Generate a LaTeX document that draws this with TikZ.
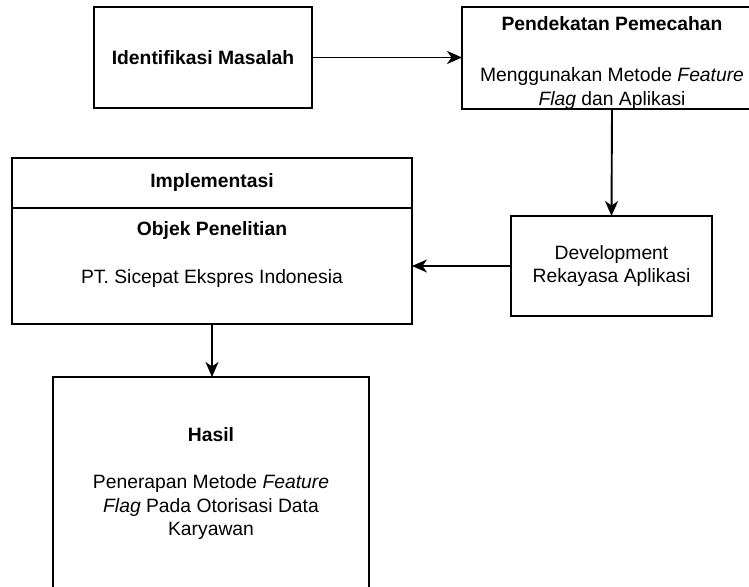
\documentclass[tikz,border=0pt]{standalone}
\usepackage{fontspec}
\setmainfont{Liberation Sans}
\usetikzlibrary{calc,
arrows.meta,
positioning}

\begin{document}
\begin{tikzpicture} [-{Stealth[length=15pt,width=13pt,inset=4.5pt]},
    x = 1pt,
    y = -1pt,
    line width = 1.9pt,
    every node/.style={font={\fontsize{19.3}{23.5}\selectfont}},
    main node/.style={rectangle, fill = white, draw,
        align=center, inner sep = 0pt, outer sep = 0pt,
        anchor = north west}
  ]
  \useasboundingbox (0, 0) rectangle (749, 586);
  \clip (0, 0) rectangle (749, 586);

  \node [main node,
    minimum width = 218pt,
    minimum height = 101pt
  ] (masalah) at (94, 7) {\textbf{Identifikasi Masalah}};
  \node [main node,
    minimum width = 300pt,
    minimum height = 100pt
  ] (pendekatan) at (462, 7) {\rule{0pt}{24pt}\textbf{Pendekatan Pemecahan}\\[27pt]
    Menggunakan Metode \textit{Feature}\\\textit{Flag} dan Aplikasi};

  \node [main node,
    minimum width = 201pt,
    minimum height = 100pt
  ] (dev) at (511, 216) {Development\\Rekayasa Aplikasi};

  \node [main node,
    minimum width = 400pt,
    minimum height = 50pt
  ] (impl) at (12, 158) {\textbf{Implementasi}};
  \node [main node,
    minimum width = 400pt,
    minimum height = 116pt,
    anchor = north
  ] (objek) at (impl.south) {};
  \node [align = center] (objektxt) at ($(objek.center) + (0, -11)$)
    {\textbf{Objek Penelitian}\\[24.5pt]PT. Sicepat Ekspres Indonesia};

  \node [main node,
    minimum width = 316pt,
    minimum height = 214pt
  ] (hasil) at (53, 377) {\textbf{Hasil}\\[23.5pt]
    Penerapan Metode \textit{Feature}\\\textit{Flag} Pada Otorisasi Data\\Karyawan};

  \draw (masalah.east) -- (pendekatan.west |- masalah.east);
  \draw (pendekatan.south) -- (dev.north);
  \draw (dev.west) -- (objek.east);
  \draw (objek.south) -- (objek.south |- hasil.north);

\end{tikzpicture}
\end{document}
